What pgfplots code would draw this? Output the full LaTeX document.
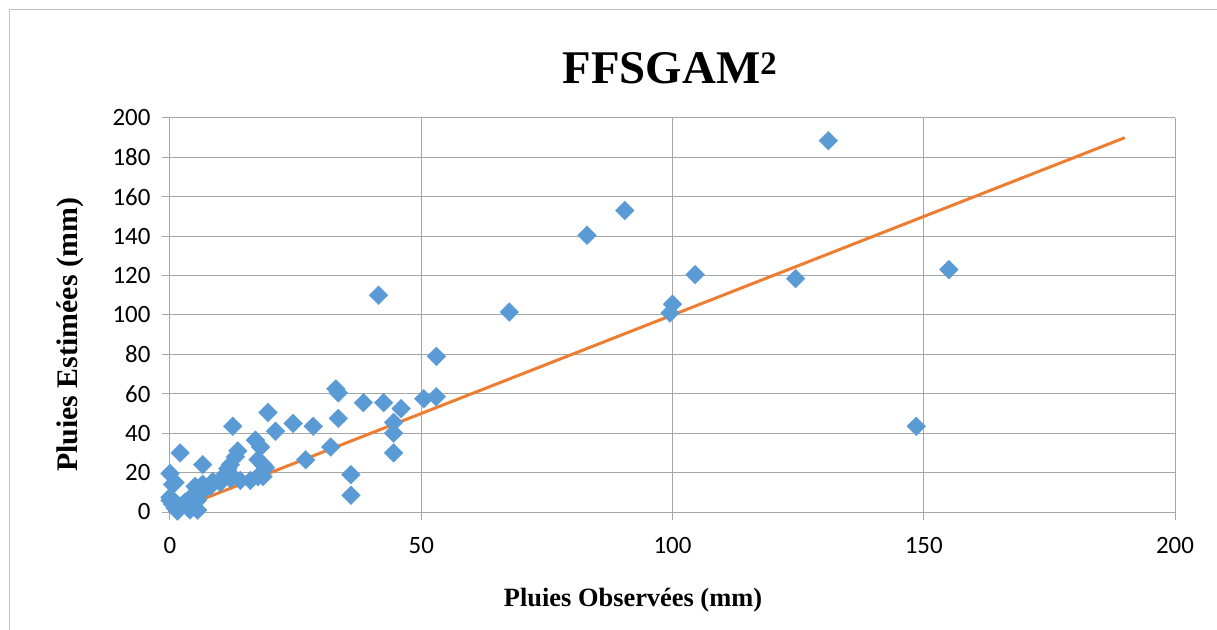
\documentclass[border=0pt]{standalone}
\usepackage{pgfplots}
\pgfplotsset{compat=1.18}
\usepackage{fontspec}
\setmainfont{Liberation Serif}
\newfontfamily\calib{Carlito}
\definecolor{ptblue}{HTML}{5B9BD5}
\definecolor{lnorange}{HTML}{ED7D31}
\definecolor{gridgray}{HTML}{A6A6A6}
\pgfplotstableread{
x y
131 188.5
90.5 153
83 140.5
155 123
104.5 120.5
124.5 118.5
41.5 110
67.5 101.5
100 105.5
99.5 101
148.5 43.5
53 79
33 62.5
33.5 60.5
38.5 55.5
42.5 55.5
46 52.5
50.5 57.5
53 58.5
33.5 47.5
44.5 45.5
44.5 40
44.5 30
32 33
36 19
36 8.5
27 26.5
28.5 43.5
24.5 45
21 41
19.5 50.5
12.5 43.5
2 30
6.5 24
0 19.5
1 15
0.5 14
17 36.5
18 33
13.5 31
13 28
12 24
11.5 22
11 19
12.5 18
17.5 26.5
18.5 24
19 22.5
16 16
17.5 18
18.5 18
8.5 15.5
10 15
12 17
14 16
8 13
7 12
6 10
5 13
6.5 14
5 8
4 7
3 5
5 5
0 7.5
0.5 4
0 6
1.5 0.5
1 2
4 1
5.5 1
5.5 6
2 3
}\obs
\pgfplotstableread{
x y
1 1
190 190
}\fit
\begin{document}
\begin{tikzpicture}
\useasboundingbox (-170bp,-118bp) rectangle (1047bp,512bp);
\draw[color=gridgray!70, line width=1bp] (-160bp,-118bp) -- (-160bp,502bp) -- (1047bp,502bp);
\begin{axis}[
  at={(0,0)}, anchor=south west,
  scale only axis, width=1005bp, height=394bp,
  xmin=0, xmax=200, ymin=0, ymax=200,
  xtick={0,50,...,200}, ytick={0,20,...,200},
  axis line style={draw=none},
  grid=major,
  major grid style={gridgray, line width=1bp},
  tick style={gridgray, line width=1bp},
  major tick length=8bp,
  tick align=outside,
  xtick pos=bottom, ytick pos=left,
  ticklabel style={font=\calib\fontsize{25}{26}\selectfont},
  /pgf/number format/assume math mode=true,
  xticklabel style={yshift=-14bp},
  yticklabel style={xshift=-8bp},
  clip=false,
]
\addplot[draw=lnorange, line width=3bp, no marks] table[x=x,y=y] {\fit};
\addplot[only marks, mark=square*, mark size=6.6bp, mark options={rotate=45, fill=ptblue, draw=ptblue}] table[x=x,y=y] {\obs};
\end{axis}
\node[font=\bfseries\fontsize{47}{50}\selectfont] at (500bp,444bp) {FFSGAM\textsuperscript{2}};
\node[font=\bfseries\fontsize{26.5}{28}\selectfont] at (463bp,-88bp) {Pluies Observées (mm)};
\node[font=\bfseries\fontsize{30}{32}\selectfont, rotate=90] at (-100bp,177bp) {Pluies Estimées (mm)};
\end{tikzpicture}
\end{document}
